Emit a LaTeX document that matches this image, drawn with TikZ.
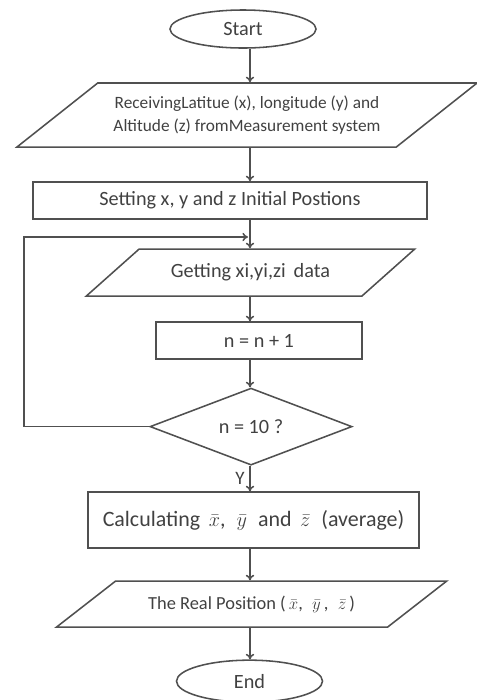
\documentclass[tikz,border=0pt]{standalone}
\usepackage{fontspec}
\setmainfont{Carlito}
\usepackage{tikz}
\usetikzlibrary{shapes, arrows, arrows.meta, calc}
\definecolor{flowgray}{RGB}{80,80,80}
\definecolor{flowtext}{RGB}{65,65,65}
\tikzstyle{terminal} = [ellipse, draw=flowgray, line width=1.1pt, text=flowtext,
    minimum width=3.65cm]
\tikzstyle{process} = [rectangle, draw=flowgray, line width=1.1pt, text=flowtext]
\tikzstyle{io} = [trapezium, trapezium stretches=true, draw=flowgray,
    line width=1.1pt, text=flowtext, align=center, inner xsep=0pt]
\tikzstyle{decision} = [diamond, draw=flowgray, line width=1.1pt, text=flowtext]
\tikzstyle{line} = [draw=flowgray, line width=1.1pt, -{To[length=4pt,width=6pt]}]

\begin{document}
\begin{tikzpicture}[x=0.025cm, y=-0.025cm, auto,
    font=\fontsize{14.4}{17}\selectfont,
    smallText/.style={font=\fontsize{12.3}{17}\selectfont},
    bigText/.style={font=\fontsize{15.6}{19}\selectfont}
    ]
    \useasboundingbox (0,0) rectangle (476,700);

    \node[terminal, minimum height=0.95cm] at (243,29) (start) {Start};
    \node[io, smallText, trapezium left angle=34, trapezium right angle=146,
          minimum width=11.55cm, minimum height=1.6cm,
          below of=start, node distance=2.15cm, xshift=0.1cm] (receive)
          {ReceivingLatitue (x), longitude (y) and\\Altitude (z) fromMeasurement system};
    \node[process, minimum width=9.85cm, minimum height=0.925cm,
          below of=receive, node distance=2.1375cm, xshift=-0.425cm] (setting)
          {Setting x, y and z Initial Postions};
    \node[io, trapezium left angle=35.5, trapezium right angle=144.5,
          minimum width=8.225cm, minimum height=1.175cm,
          below of=setting, node distance=1.8cm, xshift=0.5125cm] (getting)
          {Getting xi,yi,zi\, data};
    \node[process, minimum width=5.15cm, minimum height=0.925cm,
          below of=getting, node distance=1.7cm, xshift=0.2125cm] (count)
          {n = n + 1};
    \node[decision, minimum width=5.05cm, minimum height=1.925cm, aspect=2.6,
          below of=count, node distance=2.15cm, xshift=-0.2cm] (check)
          {n = 10 ?};
    \node[process, bigText, minimum width=8.275cm, minimum height=1.4cm,
          below of=check, node distance=2.3375cm, xshift=0.0625cm] (calc)
          {Calculating \,$\bar{x}$,\; $\bar{y}$\; and \,$\bar{z}$\; (average)};
    \node[io, font=\fontsize{13.1}{17}\selectfont,
          trapezium left angle=30.2, trapezium right angle=149.8,
          minimum width=9.775cm, minimum height=1.15cm,
          below of=calc, node distance=2.1cm, xshift=-0.05cm] (real)
          {The Real Position (\,$\bar{x}$,\; $\bar{y}$\,,\; $\bar{z}$\,)};
    \node[terminal, minimum height=1.05cm,
          below of=real, node distance=1.925cm, xshift=-0.05cm] (end) {End};

    \coordinate (spine) at (250,0);
    \coordinate (loop) at (24,237);
    \coordinate (merge) at (248,237);

    \draw[line] (start.south -| spine) -- (receive.north -| spine);
    \draw[line] (receive.south -| spine) -- (setting.north -| spine);
    \draw[line] (setting.south -| spine) -- (getting.north -| spine);
    \draw[line] (getting.south -| spine) -- (count.north -| spine);
    \draw[line] (count.south -| spine) -- (check.north -| spine);
    \draw[line] (check.west) -| (loop) -- (merge);
    \draw[line] (check.south -| spine) -- node[left, pos=0.5,
          font=\fontsize{13.5}{16}\selectfont, text=flowtext] {Y}
          (calc.north -| spine);
    \draw[line] (calc.south -| spine) -- (real.north -| spine);
    \draw[line] (real.south -| spine) -- (end.north -| spine);
\end{tikzpicture}
\end{document}
